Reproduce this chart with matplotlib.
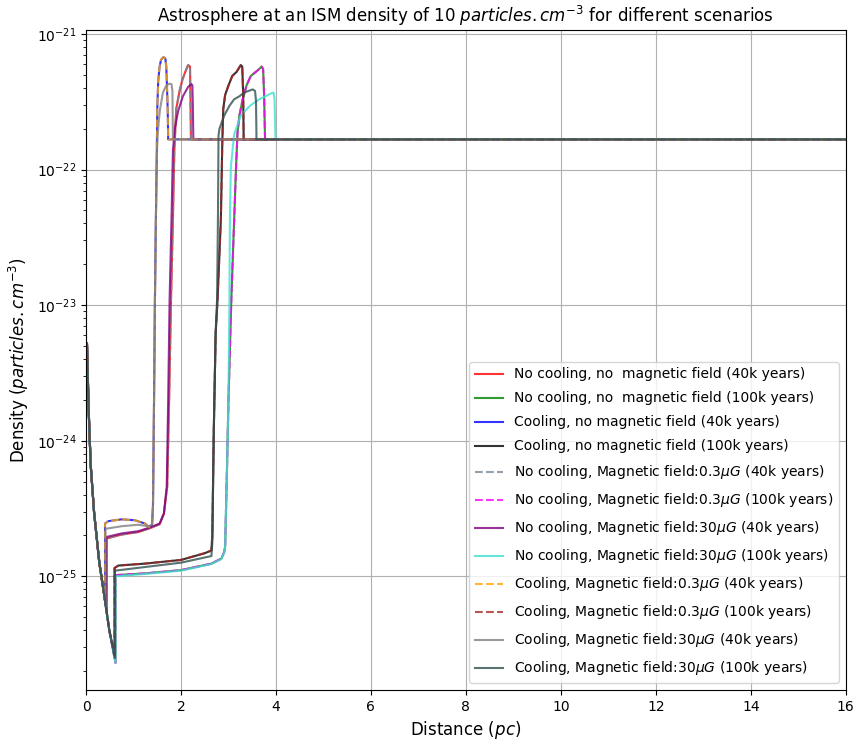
import numpy as np
import matplotlib.pyplot as plt

# free stellar wind, shared by every run (distance in pc, density)
wind_x = [0.02, 0.05, 0.07, 0.10, 0.17, 0.28, 0.38]
wind_rho = [5.2e-24, 2.0e-24, 1.2e-24, 6.5e-25, 2.95e-25, 1.26e-25, 7.4e-26]
wind100_x = [0.49]
wind100_rho = [4.0e-26]

ism_rho = 1.67e-22
x_end = 16

# 40k years runs
nc40_x = [0.43, 0.43, 0.75, 1.10, 1.34, 1.55, 1.64, 1.71, 1.75, 1.79, 1.83, 1.86,
          1.90, 1.97, 2.03, 2.09, 2.15, 2.19, 2.20, 2.21]
nc40_rho = [5.6e-26, 1.9e-25, 2.03e-25, 2.12e-25, 2.26e-25, 2.42e-25, 2.9e-25, 4.6e-25,
            2.0e-24, 1.1e-23, 4.3e-23, 1.38e-22, 2.8e-22, 3.8e-22, 4.6e-22, 5.25e-22,
            5.9e-22, 5.75e-22, 3.2e-22, ism_rho]

b30_40_x = [0.43, 0.43, 0.75, 1.10, 1.34, 1.55, 1.64, 1.70, 1.73, 1.76, 1.80, 1.83,
            1.87, 1.94, 2.04, 2.15, 2.22, 2.24, 2.25, 2.26]
b30_40_rho = [5.6e-26, 1.95e-25, 2.07e-25, 2.15e-25, 2.29e-25, 2.45e-25, 2.9e-25, 4.6e-25,
              2.0e-24, 1.1e-23, 4.3e-23, 1.38e-22, 2.0e-22, 2.7e-22, 3.47e-22, 4.07e-22,
              4.27e-22, 4.17e-22, 3.0e-22, ism_rho]

c40_x = [0.40, 0.40, 0.47, 0.75, 1.03, 1.24, 1.34, 1.39, 1.41, 1.43, 1.45, 1.47, 1.49,
         1.50, 1.52, 1.55, 1.58, 1.63, 1.67, 1.69, 1.70, 1.72, 1.73]
c40_rho = [6.6e-26, 2.45e-25, 2.55e-25, 2.63e-25, 2.59e-25, 2.45e-25, 2.29e-25, 2.4e-25,
           3.3e-25, 1.6e-24, 1.0e-23, 4.0e-23, 1.26e-22, 2.8e-22, 4.5e-22, 5.75e-22,
           6.45e-22, 6.75e-22, 6.6e-22, 5.75e-22, 4.6e-22, 2.8e-22, ism_rho]

cb30_40_x = [0.41, 0.41, 0.75, 1.10, 1.31, 1.39, 1.41, 1.43, 1.45, 1.47, 1.49, 1.51,
             1.53, 1.56, 1.62, 1.68, 1.75, 1.80, 1.82, 1.83]
cb30_40_rho = [6.4e-26, 2.24e-25, 2.34e-25, 2.4e-25, 2.34e-25, 2.4e-25, 3.3e-25, 1.6e-24,
               1.0e-23, 4.0e-23, 1.26e-22, 1.8e-22, 2.24e-22, 2.8e-22, 3.7e-22, 4.1e-22,
               4.3e-22, 4.27e-22, 3.8e-22, ism_rho]

# 100k years runs
nc100_x = [0.62, 0.62, 1.24, 2.00, 2.64, 2.85, 2.91, 2.93, 2.97, 3.00, 3.04, 3.06, 3.12,
           3.16, 3.19, 3.23, 3.30, 3.38, 3.47, 3.61, 3.70, 3.73, 3.75, 3.77]
nc100_rho = [2.3e-26, 1.02e-25, 1.05e-25, 1.11e-25, 1.24e-25, 1.35e-25, 1.51e-25, 1.66e-25,
             6.5e-25, 2.0e-24, 6.2e-24, 1.1e-23, 4.3e-23, 1.05e-22, 1.86e-22, 2.5e-22,
             3.3e-22, 4.17e-22, 4.9e-22, 5.37e-22, 5.75e-22, 5.5e-22, 3.55e-22, ism_rho]

b30_100_x = [0.62, 0.62, 1.24, 2.00, 2.64, 2.85, 2.91, 2.93, 2.97, 3.00, 3.02, 3.03, 3.05,
             3.12, 3.26, 3.45, 3.65, 3.89, 3.95, 3.97, 3.99]
b30_100_rho = [2.3e-26, 1.0e-25, 1.04e-25, 1.1e-25, 1.23e-25, 1.34e-25, 1.5e-25, 1.66e-25,
               6.5e-25, 2.0e-24, 1.1e-23, 4.3e-23, 1.05e-22, 1.82e-22, 2.5e-22, 2.95e-22,
               3.3e-22, 3.63e-22, 3.7e-22, 3.3e-22, ism_rho]

c100_x = [0.60, 0.60, 0.68, 1.24, 2.00, 2.50, 2.64, 2.66, 2.69, 2.73, 2.77, 2.84, 2.87,
          2.89, 2.93, 3.00, 3.08, 3.17, 3.26, 3.29, 3.31, 3.32]
c100_rho = [2.6e-26, 1.15e-25, 1.2e-25, 1.24e-25, 1.32e-25, 1.48e-25, 1.55e-25, 2.0e-25,
            1.15e-24, 6.2e-24, 1.1e-23, 4.3e-23, 1.58e-22, 2.8e-22, 3.55e-22, 4.17e-22,
            4.9e-22, 5.25e-22, 5.9e-22, 5.75e-22, 3.55e-22, ism_rho]

cb30_100_x = [0.61, 0.61, 1.24, 2.00, 2.64, 2.66, 2.69, 2.73, 2.76, 2.78, 2.79, 2.81,
              2.91, 3.02, 3.12, 3.23, 3.33, 3.51, 3.56, 3.58, 3.59]
cb30_100_rho = [2.5e-26, 1.1e-25, 1.17e-25, 1.26e-25, 1.41e-25, 1.78e-25, 1.15e-24, 6.2e-24,
                1.1e-23, 5.0e-23, 1.78e-22, 2.0e-22, 2.5e-22, 2.95e-22, 3.3e-22, 3.47e-22,
                3.7e-22, 3.9e-22, 3.8e-22, 3.2e-22, ism_rho]


def profile(x, rho, late=False):
    xs = list(wind_x) + (wind100_x if late else []) + list(x) + [x_end]
    ys = list(wind_rho) + (wind100_rho if late else []) + list(rho) + [ism_rho]
    return np.array(xs), np.array(ys)


runs = [
    ('No cooling, no  magnetic field (40k years)', nc40_x, nc40_rho, False, 'red', '-'),
    ('No cooling, no  magnetic field (100k years)', nc100_x, nc100_rho, True, 'green', '-'),
    ('Cooling, no magnetic field (40k years)', c40_x, c40_rho, False, 'blue', '-'),
    ('Cooling, no magnetic field (100k years)', c100_x, c100_rho, True, 'black', '-'),
    ('No cooling, Magnetic field:0.3$\\mu G$ (40k years)', nc40_x, nc40_rho, False, 'lightslategray', '--'),
    ('No cooling, Magnetic field:0.3$\\mu G$ (100k years)', nc100_x, nc100_rho, True, 'magenta', '--'),
    ('No cooling, Magnetic field:30$\\mu G$ (40k years)', b30_40_x, b30_40_rho, False, 'purple', '-'),
    ('No cooling, Magnetic field:30$\\mu G$ (100k years)', b30_100_x, b30_100_rho, True, 'turquoise', '-'),
    ('Cooling, Magnetic field:0.3$\\mu G$ (40k years)', c40_x, c40_rho, False, 'orange', '--'),
    ('Cooling, Magnetic field:0.3$\\mu G$ (100k years)', c100_x, c100_rho, True, 'brown', '--'),
    ('Cooling, Magnetic field:30$\\mu G$ (40k years)', cb30_40_x, cb30_40_rho, False, 'gray', '-'),
    ('Cooling, Magnetic field:30$\\mu G$ (100k years)', cb30_100_x, cb30_100_rho, True, 'darkslategray', '-'),
]

fig = plt.figure(figsize=(8.56, 7.44), dpi=100)
ax = fig.add_axes([0.1005, 0.0726, 0.8875, 0.8871])
for label, x, rho, late, color, ls in runs:
    xs, ys = profile(x, rho, late)
    ax.plot(xs, ys, color=color, linestyle=ls, alpha=0.8, label=label)

ax.set_yscale('log')
ax.set_xlim(0, 16)
ax.set_ylim(1.45e-26, 1.07e-21)
ax.set_xticks(np.arange(0, 17, 2))
ax.grid(True)
ax.set_title('Astrosphere at an ISM density of 10 $particles.cm^{-3}$ for different scenarios')
ax.set_xlabel('Distance ($pc$)', fontsize=12)
ax.set_ylabel('Density ($particles.cm^{-3}$)', fontsize=12)
ax.legend(loc='lower right', labelspacing=0.72)
plt.savefig('out.png', dpi=100)
